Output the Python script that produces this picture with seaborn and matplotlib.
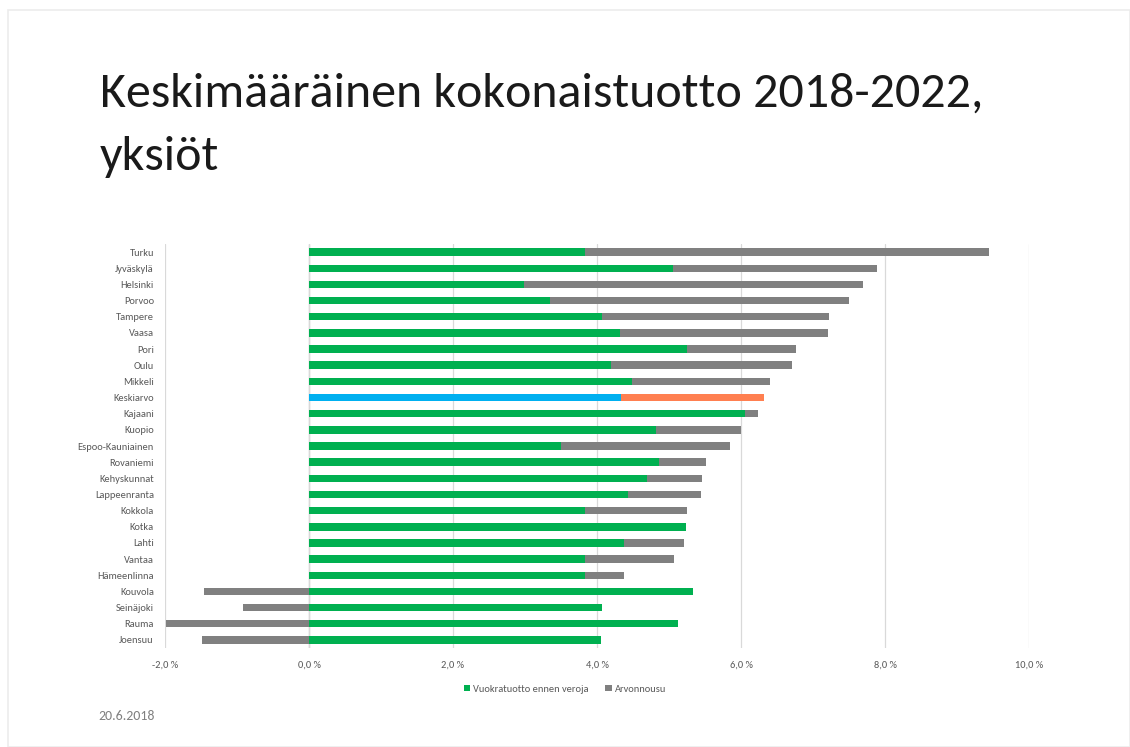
import matplotlib
matplotlib.use("Agg")
import matplotlib.pyplot as plt
import seaborn as sns
import pandas as pd
from matplotlib.patches import Rectangle, Patch

# ---- data (percent) ----
cities = ["Turku", "Jyväskylä", "Helsinki", "Porvoo", "Tampere", "Vaasa", "Pori", "Oulu",
          "Mikkeli", "Keskiarvo", "Kajaani", "Kuopio", "Espoo-Kauniainen", "Rovaniemi",
          "Kehyskunnat", "Lappeenranta", "Kokkola", "Kotka", "Lahti", "Vantaa",
          "Hämeenlinna", "Kouvola", "Seinäjoki", "Rauma", "Joensuu"]
rent_yield = [3.84, 5.06, 2.99, 3.35, 4.07, 4.32, 5.25, 4.20, 4.48, 4.33, 6.06, 4.82, 3.50,
              4.86, 4.69, 4.43, 3.84, 5.24, 4.38, 3.84, 3.84, 5.34, 4.07, 5.12, 4.06]
appreciation = [5.60, 2.83, 4.71, 4.15, 3.15, 2.89, 1.51, 2.51, 1.92, 1.99, 0.18, 1.18, 2.35,
                0.66, 0.77, 1.02, 1.41, 0.00, 0.83, 1.23, 0.54, -1.46, -0.91, -1.98, -1.49]
x_ticks = [-2, 0, 2, 4, 6, 8, 10]
series_names = ["Vuokratuotto ennen veroja", "Arvonnousu"]
title_lines = ["Keskimääräinen kokonaistuotto 2018-2022,", "yksiöt"]
date_text = "20.6.2018"

GREEN = "#00B050"
GRAY = "#808080"
BLUE = "#00B0F0"
ORANGE = "#FF7F50"
AVG = "Keskiarvo"

df = pd.DataFrame({"city": cities, "rent": rent_yield, "app": appreciation})
# extent of the grey (appreciation) segment drawn behind the green one
df["gray_end"] = [r + a if a > 0 else a for r, a in zip(df["rent"], df["app"])]

sns.set_theme(style="white")
FONT = ["Carlito", "Archivo Narrow", "DejaVu Sans"]
plt.rcParams["font.family"] = FONT

fig = plt.figure(figsize=(11.3, 7.47), dpi=100)
fig.patch.set_facecolor("white")
# slide frame
fig.add_artist(Rectangle((8 / 1130, 0.0), 1 - 8 / 1130, 1 - 10 / 747, transform=fig.transFigure,
                         fill=False, edgecolor="#ececec", linewidth=1.2))

ax = fig.add_axes([165 / 1130, 1 - 648 / 747, (1029 - 165) / 1130, (648 - 244) / 747])

gray_pal = {c: (ORANGE if c == AVG else GRAY) for c in cities}
green_pal = {c: (BLUE if c == AVG else GREEN) for c in cities}

sns.barplot(data=df, y="city", x="gray_end", hue="city", palette=gray_pal, order=cities,
            orient="h", width=0.46, legend=False, ax=ax, saturation=1, linewidth=0)
sns.barplot(data=df, y="city", x="rent", hue="city", palette=green_pal, order=cities,
            orient="h", width=0.46, legend=False, ax=ax, saturation=1, linewidth=0)

ax.set_xlim(-2, 10)
ax.set_ylim(len(cities) - 0.5, -0.5)
ax.set_xticks(x_ticks)
ax.set_xticklabels([f"{v:.1f} %".replace(".", ",") for v in x_ticks])
ax.xaxis.grid(True, color="#d9d9d9", linewidth=0.9)
ax.set_axisbelow(True)
ax.axvline(0, color="#d0d0d0", linewidth=1.0, zorder=0.5)
for s in ax.spines.values():
    s.set_visible(False)
ax.set_xlabel("")
ax.set_ylabel("")
ax.tick_params(axis="x", length=0, pad=9, labelsize=7.5, labelcolor="#595959")
ax.tick_params(axis="y", length=0, pad=8, labelsize=7.5, labelcolor="#595959")

handles = [Patch(facecolor=GREEN, edgecolor="none"), Patch(facecolor=GRAY, edgecolor="none")]
fig.legend(handles, series_names, loc="center", bbox_to_anchor=(565 / 1130, 1 - 689 / 747),
           ncol=2, frameon=False, fontsize=7.5, handlelength=0.6, handleheight=0.6,
           handletextpad=0.3, columnspacing=1.6, labelcolor="#595959")

for line, y_base in zip(title_lines, [107, 170]):
    fig.text(100 / 1130, 1 - y_base / 747, line, ha="left", va="baseline", fontsize=36,
             color="#1a1a1a", family=FONT)
fig.text(98 / 1130, 1 - 716 / 747, date_text, ha="left", va="center", fontsize=10,
         color="#808080", family=FONT)

fig.savefig("out.png", dpi=100, facecolor="white")
